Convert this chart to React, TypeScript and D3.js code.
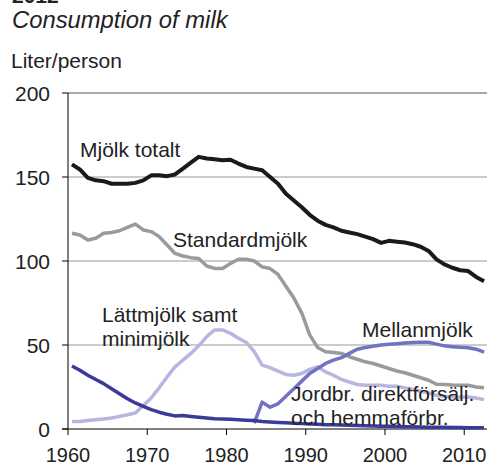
import * as d3 from 'd3';

const years = d3.range(1960, 2013);

// Liter/person, one value per year 1960-2012
const totalt = [157.5, 154.5, 149.5, 148, 147.5, 146, 146, 146, 146.5, 148,
  151, 151, 150.5, 151.5, 155, 158.5, 162, 161, 160.5, 160,
  160.3, 158, 156, 155, 154, 150, 146, 140, 136, 132,
  127.5, 124, 121.5, 120, 118, 117, 116, 114.5, 113, 110.8,
  112, 111.5, 111, 110, 108.5, 106, 101, 98, 96, 94.5,
  94, 90.5, 88];
const standard = [116.5, 115.5, 112.5, 113.5, 116.5, 117, 118, 120, 122, 118.5,
  117.5, 114.5, 109.5, 104.5, 103, 102, 101.5, 97, 95.6, 95.6,
  98.5, 101, 101, 100, 96.5, 95.5, 92, 85, 78, 69,
  56, 48.5, 46, 45.5, 45, 43, 41.5, 40, 39, 37.5,
  36, 34.5, 33.5, 32, 30.5, 29, 26.6, 26.5, 26.2, 26.1,
  26, 25, 24.5];
const latt = [4.5, 4.5, 5, 5.5, 6, 6.5, 7.5, 8.5, 9.5, 14,
  18.5, 24.5, 31, 37, 41, 45, 49.5, 55, 59, 59,
  57, 54, 51.5, 46, 38, 36.5, 34.5, 32.5, 32, 33,
  35.5, 37, 34, 32, 29.5, 28, 26.5, 26, 26, 26,
  25.5, 25.5, 24.5, 23.5, 22.5, 21.5, 20, 19.5, 19, 19,
  19, 18.5, 17.5];
const mellan = [null, null, null, null, null, null, null, null, null, null,
  null, null, null, null, null, null, null, null, null, null,
  null, null, null, 3.5, 16, 13, 15, 19.5, 24, 28.5,
  33, 36, 39, 41, 42.5, 45, 47.5, 48.5, 49.3, 50,
  50.5, 50.8, 51.2, 51.5, 51.6, 51.6, 50.5, 49.5, 49, 48.6,
  48.4, 47.5, 45.8];
const jordbr = [37.5, 35, 32, 29.5, 27, 24, 21, 18, 15.5, 13.5,
  11.5, 10, 8.8, 7.8, 8, 7.5, 7, 6.5, 6.1, 6,
  5.8, 5.5, 5.2, 5, 4.5, 4.2, 3.9, 3.7, 3.4, 3.2,
  3, 2.8, 2.6, 2.5, 2.4, 2.2, 2.1, 1.9, 1.8, 1.7,
  1.6, 1.5, 1.4, 1.3, 1.2, 1.1, 1, 1, 0.9, 0.9,
  0.8, 0.8, 0.8];

const yTicks = [0, 50, 100, 150, 200];
const xTickYears = [1960, 1970, 1980, 1990, 2000, 2010];

const series = [
  { name: 'standard', values: standard, color: '#9a9a9a', width: 3.5 },
  { name: 'latt', values: latt, color: '#b6b6de', width: 3.5 },
  { name: 'mellan', values: mellan, color: '#7272c2', width: 3.5 },
  { name: 'jordbr', values: jordbr, color: '#3a3a98', width: 3.5 },
  { name: 'totalt', values: totalt, color: '#1a1a1a', width: 4 },
];

const font = '"Liberation Sans", Arial, sans-serif';

export default function App() {
  const width = 487;
  const height = 467;

  const x = d3.scaleBand<number>().domain(years).range([68, 488]).padding(0);
  const y = d3.scaleLinear().domain([0, 200]).range([429, 93]);
  const half = x.bandwidth() / 2;

  const line = d3.line<number | null>()
    .defined(d => d != null)
    .x((_, i) => (x(years[i]) as number) + half)
    .y(d => y(d as number));

  const textColor = '#222';

  return (
    <svg width={width} height={height} style={{ position: 'absolute', left: 0, top: 0, background: '#fff' }}
      fontFamily={font}>
      <text x={12} y={3} fontSize={21} fontWeight="bold" fill={textColor}>2012</text>
      <text x={12} y={28} fontSize={23.8} fontStyle="italic" fill={textColor}>Consumption of milk</text>
      <text x={11} y={68} fontSize={21} fill={textColor}>Liter/person</text>

      {yTicks.filter(t => t > 0).map(t => (
        <line key={t} x1={68} x2={488} y1={y(t)} y2={y(t)}
          stroke={t === 200 ? '#555' : '#999'} strokeWidth={1} />
      ))}

      <line x1={68} x2={68} y1={y(200)} y2={y(0)} stroke="#000" strokeWidth={1} />
      <line x1={62} x2={488} y1={y(0)} y2={y(0)} stroke="#000" strokeWidth={1} />
      {yTicks.map(t => (
        <g key={t}>
          <line x1={62} x2={68} y1={y(t)} y2={y(t)} stroke="#000" />
          <text x={50} y={y(t) + 7.5} fontSize={21} textAnchor="end" fill={textColor}>{t}</text>
        </g>
      ))}
      {xTickYears.map(yr => (
        <g key={yr}>
          <line x1={x(yr)} x2={x(yr)} y1={y(0)} y2={y(0) + 6} stroke="#000" />
          <text x={x(yr)} y={462} fontSize={20} textAnchor="middle" fill={textColor}>{yr}</text>
        </g>
      ))}

      {series.map(s => (
        <path key={s.name} d={line(s.values) ?? ''} fill="none" stroke={s.color}
          strokeWidth={s.width} strokeLinejoin="round" />
      ))}

      <g fontSize={21} fill={textColor}>
        <text x={80} y={157}>Mjölk totalt</text>
        <text x={173} y={247}>Standardmjölk</text>
        <text x={102} y={322}>Lättmjölk samt</text>
        <text x={102} y={346}>minimjölk</text>
        <text x={362} y={337}>Mellanmjölk</text>
        <text x={291} y={401}>Jordbr. direktförsälj.</text>
        <text x={291} y={425}>och hemmaförbr.</text>
      </g>
    </svg>
  );
}
